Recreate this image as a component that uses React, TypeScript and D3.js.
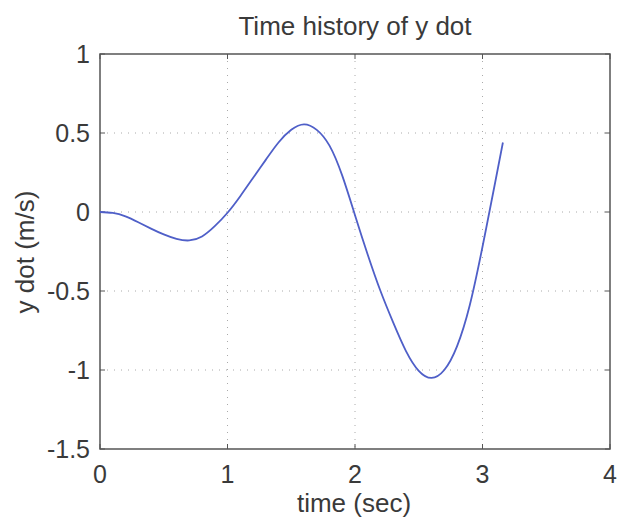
import React from "react";
import * as d3 from "d3";

// time (sec)
const times = [0, 0.1, 0.2, 0.3, 0.4, 0.5, 0.6, 0.7, 0.8, 0.9, 1.0, 1.1, 1.2, 1.3, 1.4, 1.5, 1.6, 1.7, 1.8, 1.9, 2.0, 2.1, 2.2, 2.3, 2.4, 2.5, 2.6, 2.7, 2.8, 2.9, 3.0, 3.1, 3.16];
// y dot (m/s)
const ydot = [0, -0.006, -0.028, -0.065, -0.105, -0.142, -0.17, -0.18, -0.155, -0.09, -0.005, 0.1, 0.215, 0.33, 0.44, 0.52, 0.555, 0.52, 0.42, 0.23, -0.02, -0.27, -0.5, -0.7, -0.88, -1.005, -1.05, -1.0, -0.85, -0.59, -0.22, 0.19, 0.44];

const xTicks = [0, 1, 2, 3, 4];
const yTicks = [1, 0.5, 0, -0.5, -1, -1.5];

const W = 625;
const H = 521;
const margin = { top: 54, right: 15, bottom: 72, left: 100 };
const font = "'Liberation Sans', Arial, sans-serif";

const App = () => {
  const x = d3.scaleLinear().domain([0, 4]).range([margin.left, W - margin.right]);
  const y = d3.scaleLinear().domain([-1.5, 1]).range([H - margin.bottom, margin.top]);

  const line = d3
    .line<number>()
    .x((d, i) => x(times[i]))
    .y((d) => y(d))
    .curve(d3.curveNatural);

  const x0 = x(0), x1 = x(4), y0 = y(-1.5), y1 = y(1);
  const axisColor = "#555";
  const textColor = "#3a3a3a";

  return (
    <svg width={W} height={H} style={{ position: "absolute", left: 0, top: 0, background: "#fff" }}>
      {/* grid */}
      {xTicks.slice(1, -1).map((t) => (
        <line key={"gx" + t} x1={x(t)} x2={x(t)} y1={y1} y2={y0} stroke="#aaa" strokeWidth={1} strokeDasharray="1,6" />
      ))}
      {yTicks.slice(1, -1).map((t) => (
        <line key={"gy" + t} x1={x0} x2={x1} y1={y(t)} y2={y(t)} stroke="#aaa" strokeWidth={1} strokeDasharray="1,6" />
      ))}

      {/* frame */}
      <rect x={x0} y={y1} width={x1 - x0} height={y0 - y1} fill="none" stroke={axisColor} strokeWidth={1.5} />

      {/* ticks */}
      {xTicks.map((t) => (
        <g key={"tx" + t}>
          <line x1={x(t)} x2={x(t)} y1={y0} y2={y0 - 5} stroke={axisColor} />
          <line x1={x(t)} x2={x(t)} y1={y1} y2={y1 + 5} stroke={axisColor} />
          <text x={x(t)} y={y0 + 34} textAnchor="middle" fontFamily={font} fontSize={25} fill={textColor}>
            {t}
          </text>
        </g>
      ))}
      {yTicks.map((t) => (
        <g key={"ty" + t}>
          <line x1={x0} x2={x0 + 5} y1={y(t)} y2={y(t)} stroke={axisColor} />
          <line x1={x1} x2={x1 - 5} y1={y(t)} y2={y(t)} stroke={axisColor} />
          <text x={x0 - 10} y={y(t) + 9} textAnchor="end" fontFamily={font} fontSize={25} fill={textColor}>
            {t}
          </text>
        </g>
      ))}

      {/* data */}
      <path d={line(ydot) || ""} fill="none" stroke="#4f5fc8" strokeWidth={1.8} />

      {/* labels */}
      <text x={355} y={35} textAnchor="middle" fontFamily={font} fontSize={26} fill={textColor}>
        Time history of y dot
      </text>
      <text x={354} y={512} textAnchor="middle" fontFamily={font} fontSize={26} fill={textColor}>
        time (sec)
      </text>
      <text
        transform={`translate(34,252) rotate(-90)`}
        textAnchor="middle"
        fontFamily={font}
        fontSize={26}
        fill={textColor}
      >
        y dot (m/s)
      </text>
    </svg>
  );
};

export default App;
